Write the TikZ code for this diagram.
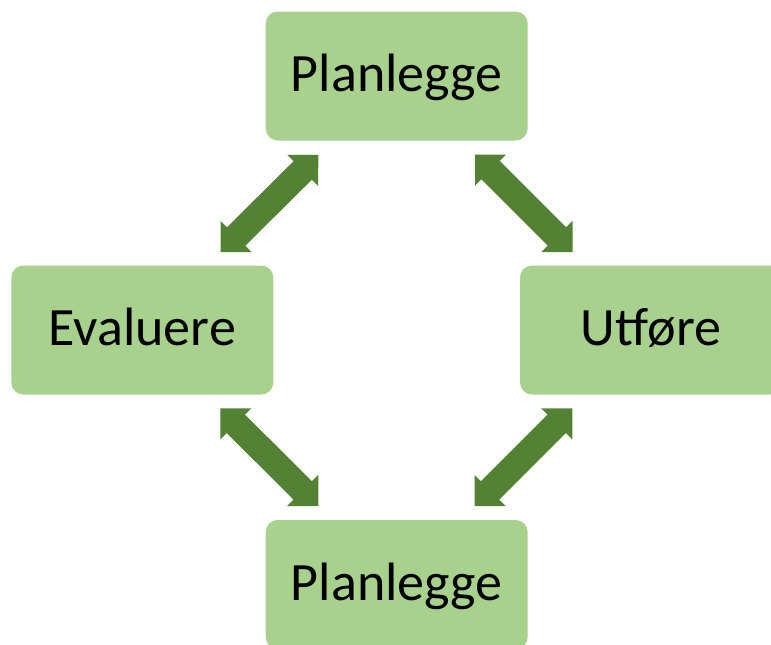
\documentclass[tikz,border=0pt]{standalone}
\usepackage{fontspec}
\setmainfont{Carlito}
\usetikzlibrary{calc}
\definecolor{boxfill}{HTML}{A9D18E}
\definecolor{arrowc}{HTML}{548235}
\newcommand\hl{22pt}
\newcommand\hw{22pt}
\newcommand\sw{13pt}
\newcommand\dblarrow[2]{%
\fill[arrowc] (#1) -- ($(#1)!\hl!(#2)!\hw!90:(#2)$) -- ($(#1)!\hl!(#2)!\sw!90:(#2)$)
 -- ($(#2)!\hl!(#1)!\sw!-90:(#1)$) -- ($(#2)!\hl!(#1)!\hw!-90:(#1)$) -- (#2)
 -- ($(#2)!\hl!(#1)!\hw!90:(#1)$) -- ($(#2)!\hl!(#1)!\sw!90:(#1)$)
 -- ($(#1)!\hl!(#2)!\sw!-90:(#2)$) -- ($(#1)!\hl!(#2)!\hw!-90:(#2)$) -- cycle;}
\tikzset{
  stagebox/.style={rectangle, rounded corners=12pt, fill=boxfill, draw=none,
    minimum width=262pt, minimum height=129pt, inner sep=0pt,
    font=\fontsize{54}{60}\selectfont, text height=44pt, text depth=13pt}
}
\begin{document}
\begin{tikzpicture}[x=1pt,y=-1pt]
\useasboundingbox (0,0) rectangle (771,645);
\clip (0,0) rectangle (771,645);
\node[stagebox] (top) at (396.7,76) {Planlegge};
\node[stagebox] (left) at (142.3,330) {Evaluere};
\node[stagebox] (right) at (651,330) {Utføre};
\node[stagebox] (bottom) at (396.7,584.5) {Planlegge};
\coordinate (a1) at (220.5,252);
\coordinate (a2) at (318.3,155);
\coordinate (b1) at (475,154.5);
\coordinate (b2) at (572.5,252);
\coordinate (c1) at (220.3,408.3);
\coordinate (c2) at (318.3,506);
\coordinate (d1) at (572.3,408.3);
\coordinate (d2) at (474.5,506);
\dblarrow{a1}{a2}
\dblarrow{b1}{b2}
\dblarrow{c1}{c2}
\dblarrow{d1}{d2}
\end{tikzpicture}
\end{document}
